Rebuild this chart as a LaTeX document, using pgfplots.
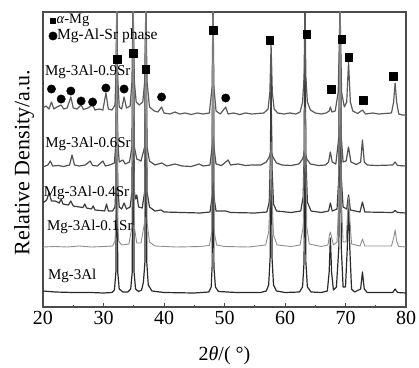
\documentclass[border=0pt]{standalone}
\usepackage{pgfplots}
\pgfplotsset{compat=1.18}
\usepackage{fontspec}
\setmainfont{Liberation Serif}
\definecolor{cA}{HTML}{5A5A5A}
\definecolor{cB}{HTML}{525252}
\definecolor{cC}{HTML}{3C3C3C}
\definecolor{cD}{HTML}{8E8E8E}
\definecolor{cE}{HTML}{2A2A2A}
\begin{document}
\begin{tikzpicture}
\begin{axis}[name=ax, width=363pt, height=295pt, scale only axis,
 xmin=20, xmax=80, ymin=0, ymax=295,
 xtick={20,30,...,80}, minor x tick num=1, ytick=\empty,
 xtick pos=left, tick align=inside,
 major tick length=4pt, minor tick length=2.5pt,
 axis line style={draw=black!70, line width=1.3pt},
 every tick/.style={black!70, line width=1pt},
 /pgf/number format/assume math mode=true,
 xticklabel style={font=\fontsize{20}{20}\selectfont, yshift=-1pt},
 xlabel={2\textit{θ}/(\ °)},
 xlabel style={font=\fontsize{20}{20}\selectfont, at={(axis description cs:0.5,-0.166)}, anchor=center},
 ylabel={Relative Density/a.u.},
 ylabel style={font=\fontsize{22}{22}\selectfont, at={(axis description cs:-0.0523,0.49)}, anchor=center},
 clip=true,
 every axis plot/.append style={line join=round},
]
% Mg-3Al
\addplot[cE, line width=1.2pt] coordinates {
(20,16) (22,15) (25,14.5) (28,14.5) (30,14) (31.4,14.5) (31.8,17) (32.05,35) (32.2,300) (32.35,35) (32.6,18) (33.2,15) (34,15) (34.5,18) (34.75,35) (34.9,300) (35.05,35) (35.3,18) (35.8,15.5) (36.3,17) (36.6,25) (36.85,45) (37.0,300) (37.15,45) (37.4,22) (38,16) (40,14.5) (45,14) (47.4,15) (47.8,20) (47.95,40) (48.1,300) (48.25,40) (48.5,20) (49,15.5) (52,14.5) (56,14.5) (56.9,16) (57.3,22) (57.55,50) (57.7,250) (57.85,50) (58.1,22) (58.6,16) (60,14.5) (62.4,15) (62.9,20) (63.15,45) (63.3,300) (63.45,45) (63.7,20) (64.3,15) (66,14.5) (67,16) (67.3,35) (67.5,69) (67.7,35) (68.0,17) (68.5,20) (68.9,60) (69.1,300) (69.3,60) (69.6,20) (70.0,20) (70.3,60) (70.5,110) (70.7,60) (71.0,18) (71.5,15) (72.5,18) (72.8,35) (73.1,18) (73.6,14.5) (77.8,14.5) (78.2,18) (78.6,14.5) (80,14)
};
% Mg-3Al-0.4Sr
\addplot[cC, line width=1.2pt] coordinates {
(20,104) (20.6,107) (21.0,114) (21.4,106) (22,106) (22.7,104) (23.0,108) (23.3,103) (24.2,102) (24.6,106) (25.0,101) (26,100) (26.6,99.5) (26.9,103) (27.2,99) (28,98) (28.3,101) (28.6,97) (29.5,96.5) (30.2,96) (30.5,103) (30.8,96) (31.5,96) (31.9,100) (32.05,120) (32.2,300) (32.35,120) (32.6,100) (33.0,98) (33.4,104) (33.8,98) (34.4,100) (34.7,115) (34.9,300) (35.1,115) (35.3,108) (35.5,112) (35.8,100) (36.4,99) (36.8,115) (37.0,300) (37.2,115) (37.6,100) (38.5,96) (39.5,97) (40,95) (43,94.5) (46,94) (47.6,95) (47.95,110) (48.1,300) (48.25,110) (48.6,96) (50.2,96) (51,94.5) (55,94) (57,95) (57.4,105) (57.55,140) (57.7,220) (57.85,140) (58.1,103) (58.6,96) (61,94.5) (62.6,96) (63.0,110) (63.15,150) (63.3,300) (63.45,150) (63.7,105) (64.3,96) (66,94.5) (67.2,96) (67.5,104) (67.8,96) (68.6,98) (68.9,130) (69.1,300) (69.3,130) (69.6,100) (70.2,98) (70.5,112) (70.8,97) (72.4,95) (72.8,105) (73.2,95) (77.8,94.5) (78.2,96.5) (78.6,94.5) (80,94)
};
% Mg-3Al-0.6Sr
\addplot[cB, line width=1.2pt] coordinates {
(20,140) (20.8,142) (21.2,146) (21.6,141) (22.5,141.5) (23.4,140.5) (24.4,142) (24.8,152) (25.2,142) (26,141) (27,142) (27.8,146) (28.2,141.5) (29,141) (29.9,146) (30.3,141) (31,142) (31.8,144) (32.05,165) (32.2,300) (32.35,165) (32.6,145) (33.2,147) (33.6,143) (34.3,145) (34.7,160) (34.9,300) (35.1,160) (35.5,148) (36.2,146) (36.8,160) (37.0,300) (37.2,160) (37.6,146) (38.5,142) (39.6,144) (40.5,141) (41.8,143) (43,141) (44.5,140.5) (45.8,143) (46.5,141) (47.6,142) (47.95,160) (48.1,300) (48.25,160) (48.6,143) (49.5,141.5) (50.6,147) (51,142) (52.2,143) (53.5,141.5) (54.5,142) (56,142) (56.9,145) (57.4,150) (57.7,156) (58.0,150) (58.6,144) (59.5,142) (61,141.5) (62.3,143) (62.9,148) (63.3,156) (63.6,148) (64.2,143) (65.5,141.5) (66.7,142) (67.2,145) (67.5,155) (67.8,145) (68.4,143) (68.9,170) (69.1,300) (69.3,170) (69.6,145) (70.1,146) (70.5,160) (70.9,145) (71.8,142.5) (72.5,145) (72.8,167) (73.1,145) (73.6,142) (75,141.5) (77.8,142) (78.2,145) (78.6,141.5) (80,141)
};
% Mg-3Al-0.9Sr
\addplot[cA, line width=1.2pt] coordinates {
(20,199) (20.5,201) (21.0,198) (21.4,205) (21.8,198) (22.3,200) (23.0,202) (23.4,198) (24.0,199) (24.6,210) (25.0,199) (25.6,198) (26.3,202) (26.7,197.5) (27.4,199) (28.2,202) (28.6,197) (29.3,198) (29.9,197) (30.4,214) (30.8,198) (31.4,197) (31.9,202) (32.05,230) (32.2,300) (32.35,230) (32.6,200) (33.0,198) (33.4,210) (33.8,199) (34.4,201) (34.7,225) (34.9,300) (35.1,225) (35.4,205) (35.9,202) (36.5,205) (36.8,225) (37.0,300) (37.2,225) (37.6,200) (38.4,196) (39.0,195) (39.6,200) (40.0,194) (41,193) (41.8,195) (42.6,193) (43.5,194) (44.5,192.5) (45.5,194) (46.5,193) (47.5,194) (47.95,220) (48.1,300) (48.25,220) (48.6,196) (49.3,193) (50.2,200) (50.6,193) (51.5,194) (52.5,192.5) (53.5,194) (54.5,193) (55.5,193.5) (56.5,194) (57.2,198) (57.5,215) (57.7,262) (57.9,215) (58.2,198) (58.8,194) (59.8,193) (60.8,194) (61.8,193) (62.5,195) (62.9,205) (63.15,230) (63.3,300) (63.45,230) (63.7,205) (64.2,197) (65,194) (66,193) (66.8,194) (67.3,196) (67.5,200) (67.75,195) (68.3,196) (68.8,215) (69.1,300) (69.35,215) (69.8,200) (70.2,205) (70.5,245) (70.8,205) (71.2,196) (72,193.5) (72.8,197) (73.3,193) (74.5,194) (75.5,193) (76.5,193.5) (77.6,194) (77.95,205) (78.2,224) (78.45,205) (78.8,193) (79.4,192) (80,192)
};
% Mg-3Al-0.1Sr
\addplot[cD, line width=0.9pt] coordinates {
(20,60) (22,60.5) (24,60) (26,61) (28,60) (30,60.5) (31.5,61) (31.9,66) (32.05,85) (32.2,300) (32.35,85) (32.5,66) (33,62) (34.2,63) (34.7,80) (34.9,300) (35.1,80) (35.5,64) (36.2,64) (36.8,85) (37.0,300) (37.2,85) (37.6,65) (38.5,61) (42,60) (46,60.5) (47.5,61.5) (47.9,75) (48.1,300) (48.3,75) (48.7,62) (50,60.5) (54,60) (56.8,62) (57.3,75) (57.55,110) (57.7,165) (57.85,110) (58.1,72) (58.7,62) (61,60.5) (62.5,62) (63.0,80) (63.3,200) (63.6,80) (64,63) (66,60.5) (67.1,62) (67.35,72) (67.5,75) (67.7,70) (68,62) (68.6,65) (68.9,110) (69.1,300) (69.3,110) (69.6,65) (70.1,65) (70.35,95) (70.5,110) (70.7,90) (71,63) (72.4,61) (72.8,68) (73.2,61) (77.6,61) (78.0,70) (78.2,77) (78.45,66) (78.8,60.5) (80,60)
};
% alpha-Mg markers
\addplot[only marks, mark=square*, mark size=3.8pt, black] coordinates {
(32.3,248) (34.9,254) (37.0,238) (48.15,277) (57.5,267) (63.6,272.5) (67.6,218) (69.4,268) (70.5,250) (72.9,207) (77.9,231)
};
% Mg-Al-Sr phase markers
\addplot[only marks, mark=*, mark size=4.2pt, black] coordinates {
(21.4,218) (23.0,208) (24.6,216) (26.3,206) (28.2,205) (30.4,219) (33.4,218) (39.6,210) (50.2,209)
};
% legend markers
\addplot[only marks, mark=square*, mark size=2.4pt, black] coordinates {(21.65,286)};
\addplot[only marks, mark=*, mark size=4.2pt, black] coordinates {(21.65,271)};
\node[anchor=west, inner sep=0pt, font=\fontsize{14.5}{14.5}\selectfont] at (axis cs:22.2,286.5) {\textit{α}-Mg};
\node[anchor=west, inner sep=0pt, font=\fontsize{15.5}{15.5}\selectfont] at (axis cs:22.3,271) {Mg-Al-Sr phase};
% trace labels
\node[anchor=west, inner sep=0pt, font=\fontsize{15}{15}\selectfont] at (axis cs:20.3,235) {Mg-3Al-0.9Sr};
\node[anchor=west, inner sep=0pt, font=\fontsize{15}{15}\selectfont] at (axis cs:20.35,163) {Mg-3Al-0.6Sr};
\node[anchor=west, inner sep=0pt, font=\fontsize{15}{15}\selectfont] at (axis cs:20.1,114) {Mg-3Al-0.4Sr};
\node[anchor=west, inner sep=0pt, font=\fontsize{15}{15}\selectfont] at (axis cs:20.65,80) {Mg-3Al-0.1Sr};
\node[anchor=west, inner sep=0pt, font=\fontsize{15}{15}\selectfont] at (axis cs:20.8,31) {Mg-3Al};
\end{axis}
\pgfresetboundingbox
\path ([shift={(-43pt,-60pt)}]ax.south west) rectangle ([shift={(13pt,12pt)}]ax.north east);
\end{tikzpicture}
\end{document}
